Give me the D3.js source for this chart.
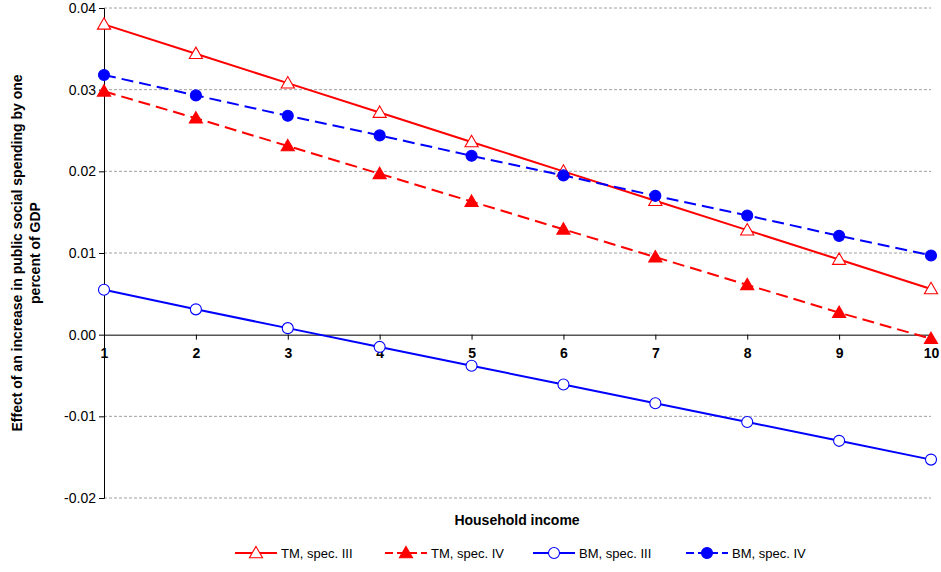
<!DOCTYPE html>
<html><head><meta charset="utf-8">
<script src="https://cdn.jsdelivr.net/npm/d3@7"></script>
<style>body{margin:0;background:#fff}text{font-family:Arial,"Liberation Sans",sans-serif}</style>
</head><body><svg id="c" width="941" height="572"></svg>
<script>
var incomes = [1,2,3,4,5,6,7,8,9,10];
var tmIII = [0.0380,0.0344,0.0308,0.0272,0.0236,0.0200,0.0164,0.0128,0.0092,0.0056];
var tmIV  = [0.0298,0.0265,0.0231,0.0197,0.0163,0.0129,0.0095,0.0061,0.0027,-0.0005];
var bmIII = [0.0055,0.0031,0.0008,-0.0015,-0.0038,-0.0061,-0.0084,-0.0107,-0.0130,-0.0153];
var bmIV  = [0.0318,0.0293,0.0268,0.0244,0.0219,0.0195,0.0170,0.0146,0.0121,0.0097];
var yTicks = [-0.02,-0.01,0,0.01,0.02,0.03,0.04];

var svg = d3.select("#c");
var x = d3.scaleLinear().domain([1,10]).range([104,931]);
var y = d3.scaleLinear().domain([-0.02,0.04]).range([498,8]);

// gridlines
svg.selectAll(".g").data(yTicks.filter(d => d != 0)).enter().append("line")
  .attr("x1",104).attr("x2",931).attr("y1",d=>y(d)).attr("y2",d=>y(d))
  .attr("stroke","#888").attr("stroke-dasharray","3,2").attr("stroke-width",0.8);

// y axis
var fmt = d3.format(".2f");
var ya = svg.append("g").attr("transform","translate(104,0)")
  .call(d3.axisLeft(y).tickValues(yTicks).tickFormat(d => fmt(d).replace("\u2212","-")).tickSize(5));
ya.selectAll("text").attr("font-size",14).attr("fill","#000");
ya.selectAll("path,line").attr("stroke","#000");
// x axis on zero
var xa = svg.append("g").attr("transform","translate(0,"+y(0)+")")
  .call(d3.axisBottom(x).tickValues(incomes).tickFormat(d3.format("d")).tickSize(5).tickSizeOuter(0));
xa.selectAll("text").attr("font-size",14).attr("font-weight","bold").attr("fill","#000").attr("dy","1.1em");
xa.selectAll("path,line").attr("stroke","#000");

var series = [
  {name:"TM, spec. III", v:tmIII, color:"#ff0000", dash:null, shape:"tri", fill:"#fff"},
  {name:"TM, spec. IV", v:tmIV, color:"#ff0000", dash:"12,6", shape:"tri", fill:"#ff0000"},
  {name:"BM, spec. III", v:bmIII, color:"#0000ff", dash:null, shape:"circ", fill:"#fff"},
  {name:"BM, spec. IV", v:bmIV, color:"#0000ff", dash:"12,6", shape:"circ", fill:"#0000ff"}
];
var line = d3.line().x((d,i)=>x(incomes[i])).y(d=>y(d));
var tri = d3.symbol().type(d3.symbolTriangle).size(75);

function marker(g, s, cx, cy){
  if(s.shape=="tri") g.append("path").attr("d",tri()).attr("transform","translate("+cx+","+(cy+1)+")")
     .attr("fill",s.fill).attr("stroke",s.color).attr("stroke-width",1.1);
  else g.append("circle").attr("cx",cx).attr("cy",cy).attr("r",5.5)
     .attr("fill",s.fill).attr("stroke",s.color).attr("stroke-width",1.1);
}
series.forEach(function(s){
  svg.append("path").attr("d",line(s.v)).attr("fill","none").attr("stroke",s.color)
    .attr("stroke-width",2).attr("stroke-dasharray",s.dash);
  s.v.forEach((d,i)=>marker(svg,s,x(incomes[i]),y(d)));
});

svg.append("text").attr("x",517).attr("y",525).attr("text-anchor","middle")
  .attr("font-size",14).attr("font-weight","bold").text("Household income");
svg.append("text").attr("transform","translate(22,253) rotate(-90)").attr("text-anchor","middle")
  .attr("font-size",14).attr("font-weight","bold").text("Effect of an increase in public social spending by one");
svg.append("text").attr("transform","translate(40,253) rotate(-90)").attr("text-anchor","middle")
  .attr("font-size",14).attr("font-weight","bold").text("percent of GDP");

// legend
var lx = [235,385,533,686];
series.forEach(function(s,i){
  var g = svg.append("g");
  g.append("line").attr("x1",lx[i]).attr("x2",lx[i]+42).attr("y1",553).attr("y2",553)
    .attr("stroke",s.color).attr("stroke-width",2).attr("stroke-dasharray",s.dash?"8,4":null);
  marker(g,s,lx[i]+21,553);
  g.append("text").attr("x",lx[i]+46).attr("y",558).attr("font-size",13).text(s.name);
});
</script></body></html>
